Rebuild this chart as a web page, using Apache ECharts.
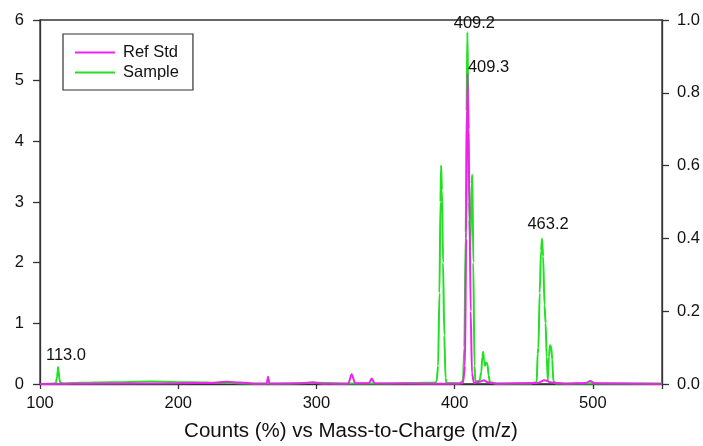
<!DOCTYPE html>
<html>
<head>
<meta charset="utf-8">
<script src="https://cdn.jsdelivr.net/npm/echarts@6/dist/echarts.min.js"></script>
<style>
  html, body { margin: 0; padding: 0; background: #fff; }
  #chart { width: 703px; height: 446px; }
</style>
</head>
<body>
<div id="chart"></div>
<script>
// Sample trace: m/z and counts (%) on the left axis
const sampleMz = [100, 110, 111.5, 112.4, 112.8, 113.0, 113.6, 114.1, 114.8, 117, 130, 150, 180, 210, 230, 250, 280, 300, 320, 350, 380, 386,
  387, 388, 389, 389.7, 390.2, 390.8, 391.6, 392.5, 393.4, 394, 403, 406, 407, 408, 408.6, 409.2, 409.8, 410.5, 411.3, 412.2, 412.8, 413.5, 414.3, 415,
  418, 419.3, 420, 420.6, 421.3, 422, 423, 423.8, 424.5, 425.5, 430, 440, 455, 459.4, 460, 460.6, 461.5, 462.5, 463.2, 464, 465, 465.8, 466.6,
  467.4, 468.2, 468.9, 469.8, 470.6, 471.4, 473, 490, 520, 550];
const sampleCounts = [0.0, 0.01, 0.02, 0.12, 0.22, 0.28, 0.2, 0.07, 0.02, 0.01, 0.02, 0.03, 0.04, 0.03, 0.02, 0.01, 0.01, 0.02, 0.01, 0.01, 0.02, 0.02,
  0.05, 0.3, 1.5, 3.0, 3.6, 3.2, 2.0, 0.8, 0.1, 0.02, 0.01, 0.05, 0.6, 2.5, 4.5, 5.8, 4.8, 3.0, 2.2, 3.3, 3.45, 2.0, 0.3, 0.05,
  0.05, 0.2, 0.45, 0.53, 0.4, 0.3, 0.35, 0.32, 0.15, 0.03, 0.01, 0.01, 0.01, 0.03, 0.5, 0.6, 1.5, 2.2, 2.4, 2.1, 1.3, 1.0, 0.45,
  0.05, 0.45, 0.64, 0.62, 0.4, 0.05, 0.01, 0.01, 0.01, 0.01];

// Reference standard trace: m/z and counts on the right axis
const refMz = [100, 120, 200, 225, 235, 245, 255, 264, 265, 266, 290, 297, 304, 323, 325.5, 328, 338, 340, 342, 380, 400, 406,
  407.5, 408.3, 409.3, 410, 410.8, 411.6, 412.5, 414, 418, 421, 424, 430, 460, 465, 470, 480, 495, 498, 501, 550];
const refCounts = [0, 0.001, 0.002, 0.003, 0.006, 0.004, 0.001, 0.001, 0.02, 0.001, 0.002, 0.005, 0.001, 0.001, 0.027, 0.002, 0.002, 0.015, 0.002, 0.001, 0.001, 0.002,
  0.05, 0.4, 0.853, 0.7, 0.45, 0.2, 0.03, 0.003, 0.006, 0.01, 0.005, 0.001, 0.003, 0.01, 0.004, 0.001, 0.003, 0.008, 0.002, 0];

// Annotated peaks (m/z values that appear in the traces above)
const samplePeakLabels = ['113.0', '409.2', '463.2'];
const refPeakLabels = ['409.3'];

// Tick values
const leftTicks = [0, 1, 2, 3, 4, 5, 6];
const rightTicks = [0.0, 0.2, 0.4, 0.6, 0.8, 1.0];
const xTicks = [100, 200, 300, 400, 500];

const FONT = '"Liberation Sans", Arial, sans-serif';
const GREEN = '#22e022';
const MAGENTA = '#ee22ee';

function pairs(xs, ys) { return xs.map((x, i) => [x, ys[i]]); }

// label offsets (pixels) for each annotated peak
const labelOffsets = { '113.0': [8, 2], '409.2': [7, 5], '463.2': [6, 0], '409.3': [21, 7] };

function peakMarks(xs, ys, labels) {
  return labels.map(t => {
    const i = xs.indexOf(parseFloat(t));
    return {
      coord: [xs[i], ys[i]],
      value: t,
      label: { offset: labelOffsets[t] }
    };
  });
}

const chart = echarts.init(document.getElementById('chart'), null, { renderer: 'canvas' });

const axisLineStyle = { color: '#333', width: 1.3 };

chart.setOption({
  backgroundColor: '#fff',
  animation: false,
  textStyle: { fontFamily: FONT },
  grid: {
    left: 40, right: 41, top: 20, bottom: 62,
    outerBoundsMode: 'none',
    show: true, borderColor: '#333', borderWidth: 1.3, backgroundColor: 'transparent'
  },
  legend: {
    data: ['Ref Std', 'Sample'],
    orient: 'vertical',
    left: 63, top: 34,
    padding: [10, 14, 9, 12],
    itemGap: 3,
    itemWidth: 40, itemHeight: 2,
    icon: 'rect',
    borderColor: '#333', borderWidth: 1.2,
    backgroundColor: '#fff',
    textStyle: { fontFamily: FONT, fontSize: 16.5, color: '#111', padding: [0, 0, 0, 3] }
  },
  xAxis: {
    type: 'value',
    min: 100, max: 550, interval: 100,
    name: 'Counts (%) vs Mass-to-Charge (m/z)',
    nameLocation: 'middle',
    nameGap: 37,
    nameTextStyle: { fontFamily: FONT, fontSize: 20.5, color: '#111' },
    axisLine: { show: true, onZero: false, lineStyle: axisLineStyle },
    axisTick: { show: true, length: 5, lineStyle: axisLineStyle },
    axisLabel: {
      fontFamily: FONT, fontSize: 16.5, color: '#111', margin: 11,
      formatter: v => (xTicks.indexOf(v) >= 0 ? String(v) : '')
    },
    splitLine: { show: false }
  },
  yAxis: [
    {
      type: 'value', position: 'left',
      min: leftTicks[0], max: leftTicks[leftTicks.length - 1], interval: 1,
      axisLine: { show: true, lineStyle: axisLineStyle },
      axisTick: { show: true, length: 7, lineStyle: axisLineStyle },
      axisLabel: { fontFamily: FONT, fontSize: 16.5, color: '#111', margin: 16 },
      splitLine: { show: false }
    },
    {
      type: 'value', position: 'right',
      min: rightTicks[0], max: rightTicks[rightTicks.length - 1], interval: 0.2,
      axisLine: { show: true, lineStyle: axisLineStyle },
      axisTick: { show: true, length: 7, lineStyle: axisLineStyle },
      axisLabel: { fontFamily: FONT, fontSize: 16.5, color: '#111', margin: 15, formatter: v => v.toFixed(1) },
      splitLine: { show: false }
    }
  ],
  series: [
    {
      name: 'Sample', type: 'line', yAxisIndex: 0,
      data: pairs(sampleMz, sampleCounts),
      showSymbol: false, symbol: 'none',
      smooth: 0.25, smoothMonotone: 'x',
      color: GREEN,
      lineStyle: { color: GREEN, width: 2 },
      z: 2,
      markPoint: {
        symbol: 'circle', symbolSize: 0,
        label: { show: true, position: 'top', distance: 5, fontFamily: FONT, fontSize: 16.5, color: '#111', formatter: p => p.value },
        data: peakMarks(sampleMz, sampleCounts, samplePeakLabels)
      }
    },
    {
      name: 'Ref Std', type: 'line', yAxisIndex: 1,
      data: pairs(refMz, refCounts),
      showSymbol: false, symbol: 'none',
      smooth: 0.25, smoothMonotone: 'x',
      color: MAGENTA,
      lineStyle: { color: MAGENTA, width: 2 },
      z: 3,
      markPoint: {
        symbol: 'circle', symbolSize: 0,
        label: { show: true, position: 'top', distance: 5, fontFamily: FONT, fontSize: 16.5, color: '#111', formatter: p => p.value },
        data: peakMarks(refMz, refCounts, refPeakLabels)
      }
    }
  ]
});
</script>
</body>
</html>
